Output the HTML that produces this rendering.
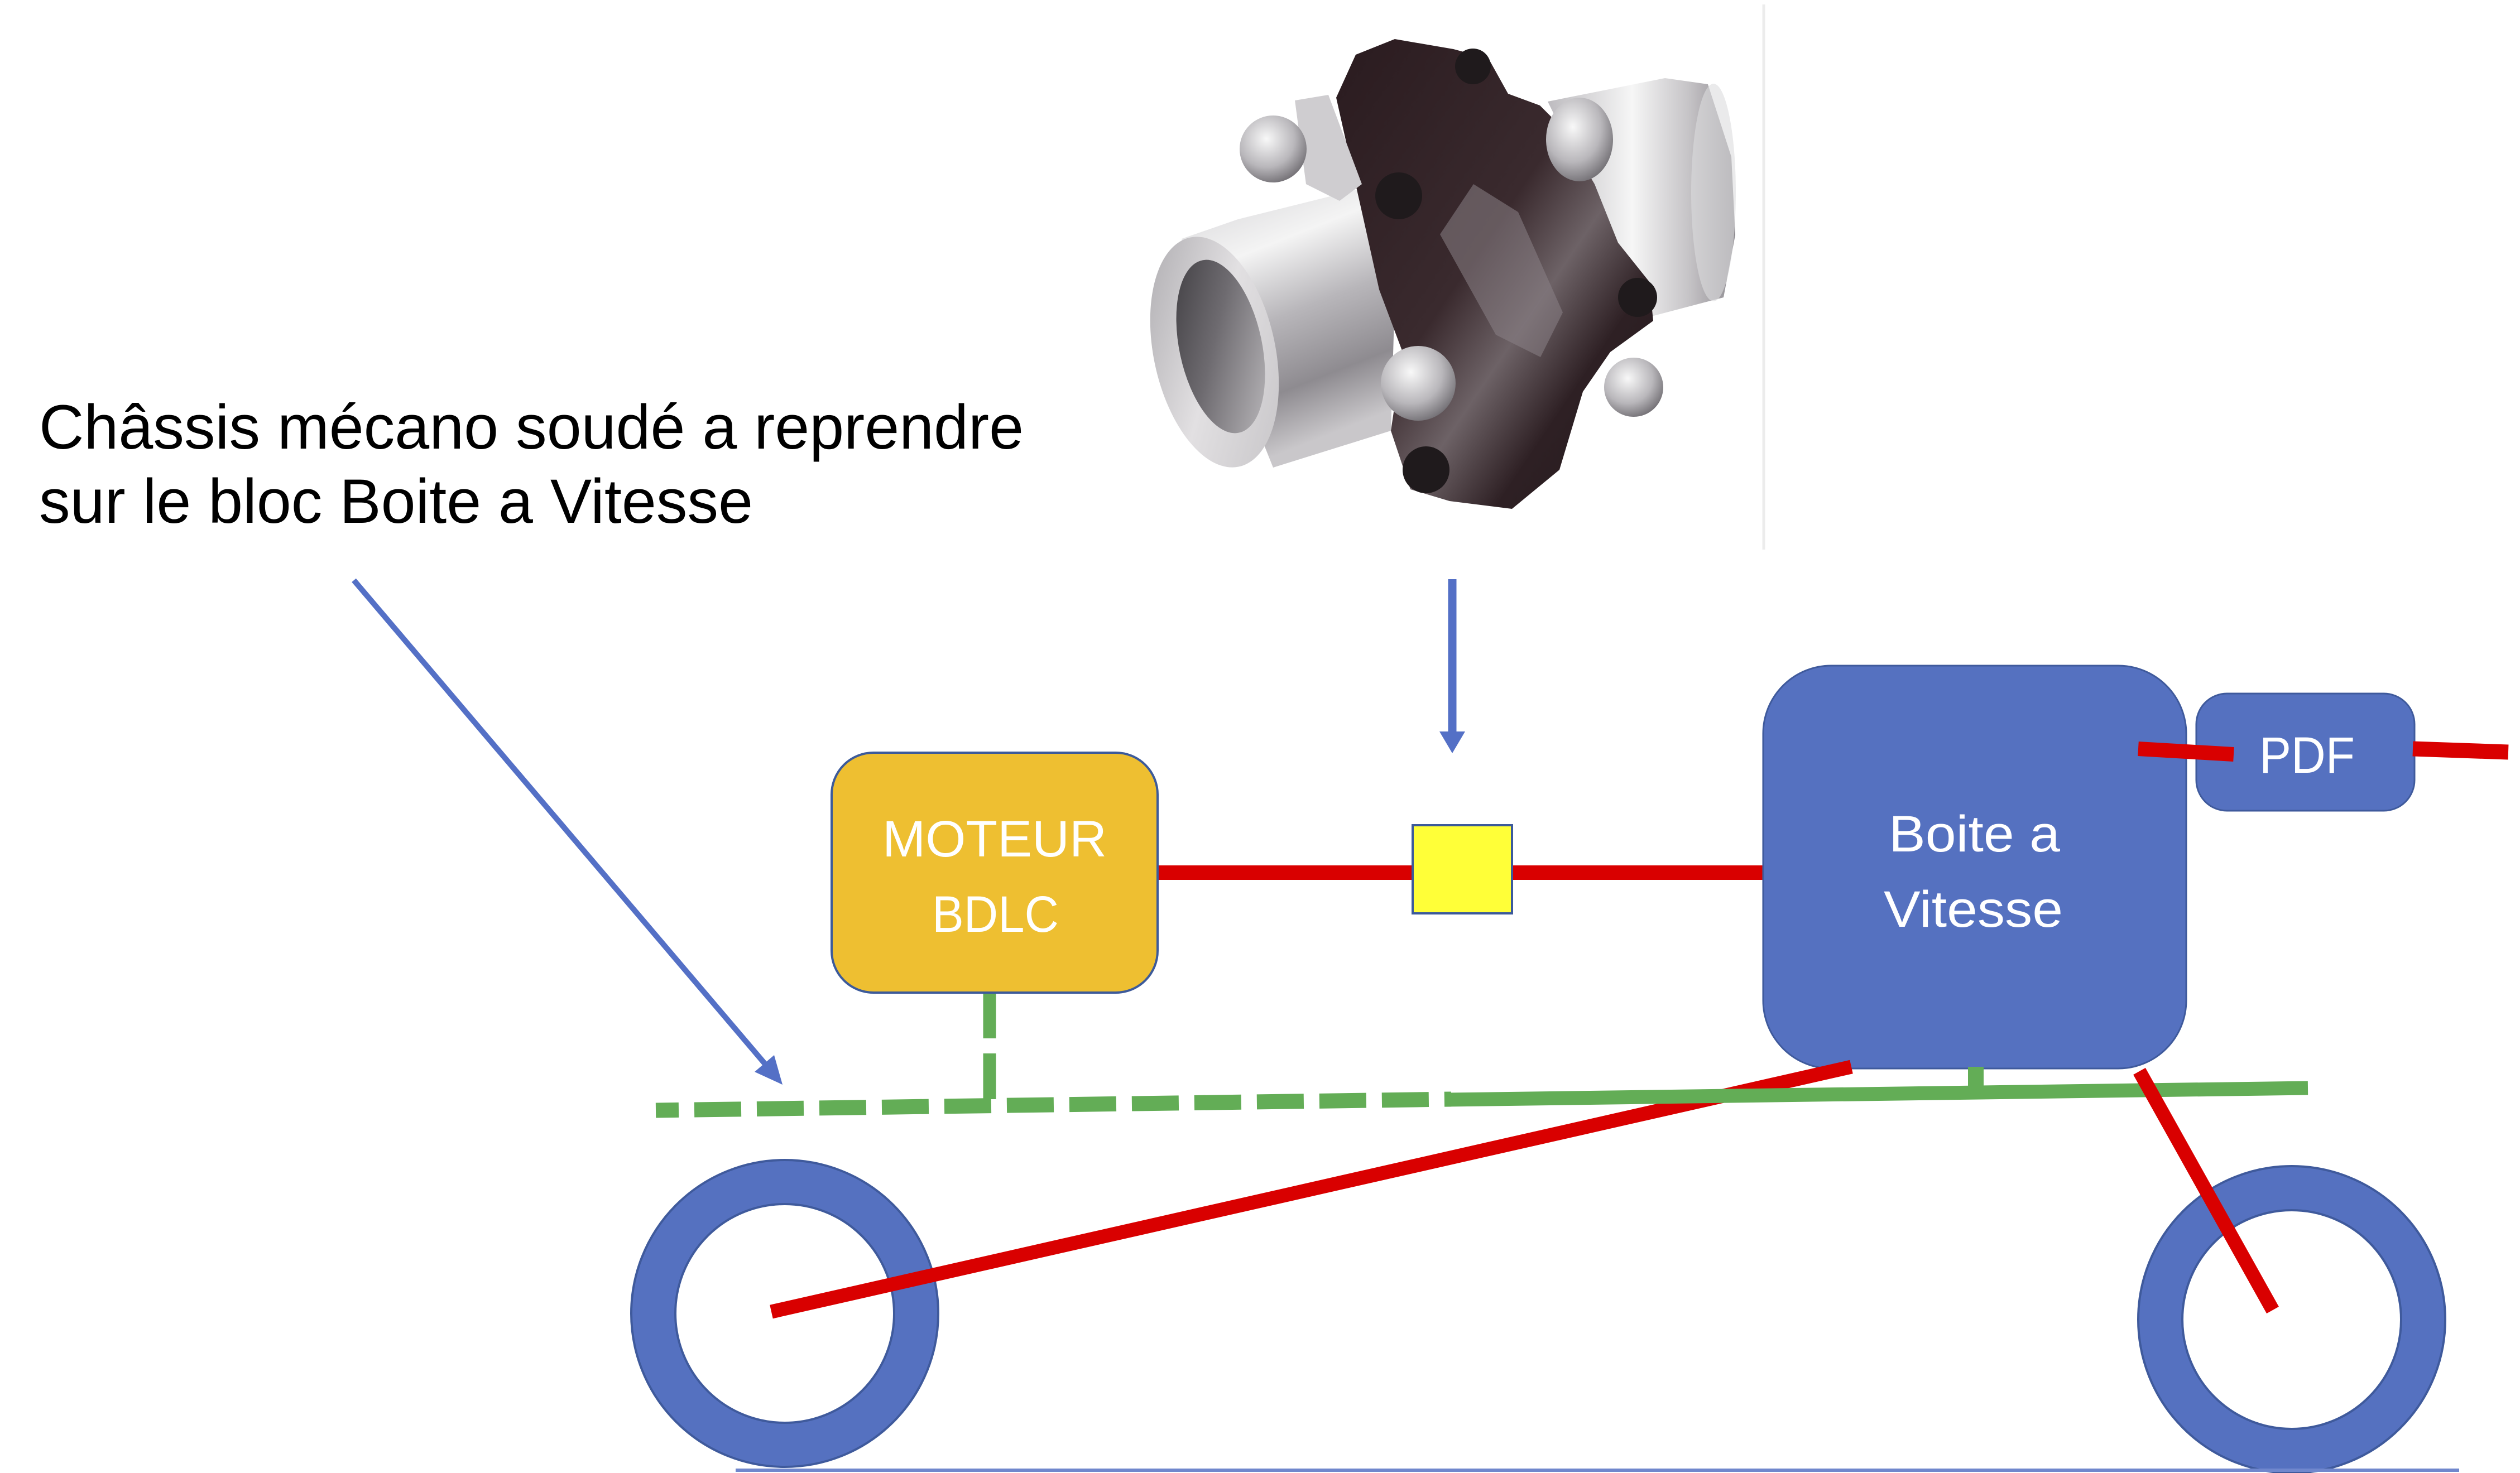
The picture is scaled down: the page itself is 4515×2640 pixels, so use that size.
<!DOCTYPE html>
<html>
<head>
<meta charset="utf-8">
<style>
html,body{margin:0;padding:0;background:#fff;width:4515px;height:2640px;overflow:hidden;}
svg{display:block;}
text{font-family:"Liberation Sans",Arial,sans-serif;}
</style>
</head>
<body>
<svg width="4515" height="2640" viewBox="0 0 4515 2640" xmlns="http://www.w3.org/2000/svg">
<defs>
  <linearGradient id="hubL" x1="0" y1="0" x2="0.3" y2="1">
    <stop offset="0" stop-color="#d4d3d6"/>
    <stop offset="0.3" stop-color="#f4f4f4"/>
    <stop offset="0.55" stop-color="#b8b6ba"/>
    <stop offset="0.8" stop-color="#8e8b90"/>
    <stop offset="1" stop-color="#c9c7ca"/>
  </linearGradient>
  <linearGradient id="face" x1="0" y1="0" x2="1" y2="1">
    <stop offset="0" stop-color="#a9a7ab"/>
    <stop offset="0.5" stop-color="#e2e0e2"/>
    <stop offset="1" stop-color="#c4c2c5"/>
  </linearGradient>
  <linearGradient id="hole" x1="0" y1="0" x2="1" y2="1">
    <stop offset="0" stop-color="#3c3a3e"/>
    <stop offset="0.45" stop-color="#6e6b70"/>
    <stop offset="1" stop-color="#c2c0c3"/>
  </linearGradient>
  <linearGradient id="hubR" x1="0" y1="0" x2="1" y2="0">
    <stop offset="0" stop-color="#bdbbbf"/>
    <stop offset="0.45" stop-color="#f6f6f6"/>
    <stop offset="0.75" stop-color="#c6c4c7"/>
    <stop offset="1" stop-color="#8d8a8f"/>
  </linearGradient>
  <linearGradient id="dark" x1="0" y1="0" x2="1" y2="1">
    <stop offset="0" stop-color="#2a1b1f"/>
    <stop offset="0.45" stop-color="#3a2a2e"/>
    <stop offset="0.6" stop-color="#6d6266"/>
    <stop offset="0.75" stop-color="#2e2024"/>
    <stop offset="1" stop-color="#251a1d"/>
  </linearGradient>
  <radialGradient id="bolt" cx="0.4" cy="0.35" r="0.7">
    <stop offset="0" stop-color="#f8f8f8"/>
    <stop offset="0.6" stop-color="#b9b7bb"/>
    <stop offset="1" stop-color="#6f6c71"/>
  </radialGradient>
</defs>

<!-- photo border line -->
<line x1="3160" y1="8" x2="3160" y2="985" stroke="#ececec" stroke-width="5"/>

<!-- coupling photo approximation -->
<g>
  <!-- right hub -->
  <polygon points="2773,182 2983,140 3060,151 3102,281 3109,421 3088,533 2955,568 2892,491 2822,281" fill="url(#hubR)"/>
  <ellipse cx="3070" cy="345" rx="40" ry="195" fill="#dcdcde" opacity="0.6"/>
  <!-- left hub body -->
  <polygon points="2117,428 2218,393 2443,337 2499,533 2492,772 2281,838" fill="url(#hubL)"/>
  <!-- central dark element -->
  <polygon points="2394,175 2429,98 2499,70 2604,88 2667,105 2702,168 2759,189 2794,224 2857,330 2899,435 2955,505 2962,575 2885,631 2836,702 2794,842 2709,912 2597,898 2527,877 2492,772 2513,631 2471,519 2443,393" fill="url(#dark)"/>
  <polygon points="2580,420 2640,330 2720,380 2800,560 2760,640 2680,600" fill="#8a8286" opacity="0.55"/>
  <!-- left flange silver -->
  <polygon points="2320,180 2380,170 2440,330 2400,360 2340,330" fill="#cfcdd0"/>
  <!-- front face of left hub -->
  <ellipse cx="2176" cy="631" rx="109" ry="210" transform="rotate(-12 2176 631)" fill="url(#face)"/>
  <ellipse cx="2187" cy="621" rx="74" ry="158" transform="rotate(-12 2187 621)" fill="url(#hole)"/>
  <!-- bolts -->
  <circle cx="2281" cy="267" r="60" fill="url(#bolt)"/>
  <circle cx="2541" cy="687" r="67" fill="url(#bolt)"/>
  <circle cx="2927" cy="694" r="53" fill="url(#bolt)"/>
  <ellipse cx="2830" cy="250" rx="60" ry="75" fill="url(#bolt)"/>
  <!-- black nuts -->
  <circle cx="2506" cy="351" r="42" fill="#1f1a1c"/>
  <circle cx="2639" cy="119" r="32" fill="#1f1a1c"/>
  <circle cx="2555" cy="842" r="42" fill="#1f1a1c"/>
  <circle cx="2934" cy="533" r="35" fill="#1f1a1c"/>
</g>

<!-- wheels -->
<circle cx="1406" cy="2354" r="275" fill="#5571C0" stroke="#3f5a9c" stroke-width="4"/>
<circle cx="1406" cy="2354" r="196" fill="#ffffff" stroke="#3f5a9c" stroke-width="4"/>
<circle cx="4106" cy="2365" r="275" fill="#5571C0" stroke="#3f5a9c" stroke-width="4"/>
<circle cx="4106" cy="2365" r="196" fill="#ffffff" stroke="#3f5a9c" stroke-width="4"/>

<!-- ground line -->
<line x1="1318" y1="2635" x2="4406" y2="2635" stroke="#7087cd" stroke-width="6"/>

<!-- green dashed chassis -->
<line x1="1175" y1="1990" x2="2600" y2="1970" stroke="#63AD56" stroke-width="27" stroke-dasharray="84 28" stroke-dashoffset="43"/>
<line x1="1773" y1="1779" x2="1773" y2="1985" stroke="#63AD56" stroke-width="23" stroke-dasharray="82 27"/>

<!-- red shaft motor -> gearbox -->
<line x1="2074" y1="1564" x2="3165" y2="1564" stroke="#D90000" stroke-width="26"/>

<!-- MOTEUR box -->
<rect x="1490" y="1349" width="584" height="430" rx="75" ry="75" fill="#EEBF31" stroke="#3C5A9A" stroke-width="4"/>
<text x="1581" y="1535" font-size="92" fill="#ffffff" textLength="402" lengthAdjust="spacingAndGlyphs">MOTEUR</text>
<text x="1670" y="1670" font-size="92" fill="#ffffff" textLength="227" lengthAdjust="spacingAndGlyphs">BDLC</text>

<!-- yellow coupling square -->
<rect x="2531" y="1479" width="178" height="158" fill="#FFFF38" stroke="#3C5A9A" stroke-width="4"/>

<!-- Boite a Vitesse -->
<rect x="3159" y="1193" width="758" height="722" rx="122" ry="122" fill="#5571C0" stroke="#3f5a9c" stroke-width="3"/>
<text x="3384" y="1526" font-size="92" fill="#ffffff" textLength="307" lengthAdjust="spacingAndGlyphs">Boite a</text>
<text x="3375" y="1661" font-size="92" fill="#ffffff" textLength="321" lengthAdjust="spacingAndGlyphs">Vitesse</text>

<!-- PDF -->
<rect x="3935" y="1243" width="391" height="210" rx="55" ry="55" fill="#5571C0" stroke="#3f5a9c" stroke-width="3"/>
<text x="4048" y="1385" font-size="92" fill="#ffffff" textLength="171" lengthAdjust="spacingAndGlyphs">PDF</text>
<line x1="3831" y1="1342" x2="4002" y2="1352" stroke="#D90000" stroke-width="26"/>
<line x1="4323" y1="1342" x2="4494" y2="1348" stroke="#D90000" stroke-width="27"/>

<!-- red diagonal left -->
<line x1="1382" y1="2351" x2="3317" y2="1912" stroke="#D90000" stroke-width="25"/>

<!-- green solid chassis -->
<line x1="2590" y1="1971" x2="4135" y2="1950" stroke="#63AD56" stroke-width="25"/>
<line x1="3540" y1="1912" x2="3540" y2="1962" stroke="#63AD56" stroke-width="28"/>

<!-- red diagonal right -->
<line x1="3833" y1="1920" x2="4072" y2="2348" stroke="#D90000" stroke-width="25"/>

<!-- blue arrows -->
<line x1="634" y1="1040" x2="1370" y2="1906" stroke="#5470C6" stroke-width="10"/>
<polygon points="1402,1944 1352,1921 1387,1891" fill="#5470C6"/>
<line x1="2602" y1="1038" x2="2602" y2="1315" stroke="#5470C6" stroke-width="15"/>
<polygon points="2579,1311 2625,1311 2602,1350" fill="#5470C6"/>

<!-- annotation text -->
<text x="70" y="804" font-size="112" fill="#000000" textLength="1764" lengthAdjust="spacingAndGlyphs">Châssis mécano soudé a reprendre</text>
<text x="70" y="937" font-size="112" fill="#000000" textLength="1279" lengthAdjust="spacingAndGlyphs">sur le bloc Boite a Vitesse</text>
</svg>
</body>
</html>
